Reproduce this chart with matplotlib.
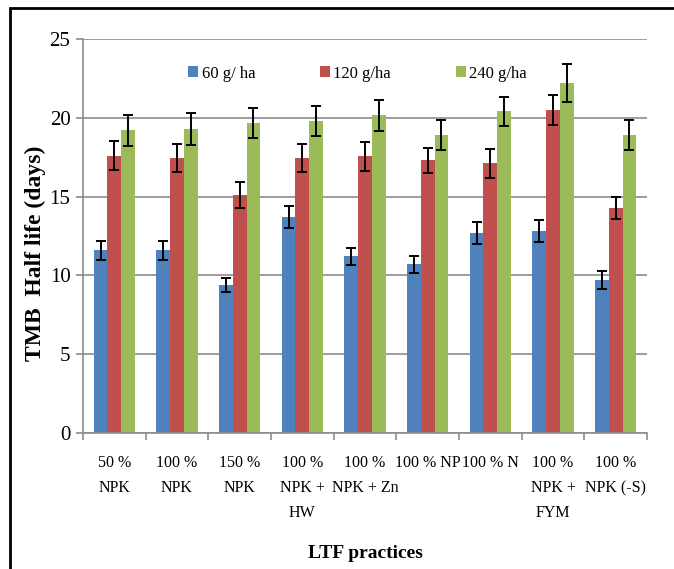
import matplotlib
matplotlib.use("Agg")
import matplotlib.pyplot as plt
import numpy as np
from matplotlib.patches import Rectangle

categories = ["50 %\nNPK", "100 %\nNPK", "150 %\nNPK", "100 %\nNPK +\nHW",
              "100 %\nNPK + Zn", "100 % NP", "100 % N", "100 %\nNPK +\nFYM",
              "100 %\nNPK (-S)"]
series_names = ["60 g/ ha", "120 g/ha", "240 g/ha"]
rate_60 = [11.6, 11.6, 9.4, 13.7, 11.2, 10.7, 12.7, 12.8, 9.7]
rate_120 = [17.6, 17.45, 15.1, 17.45, 17.55, 17.3, 17.1, 20.5, 14.25]
rate_240 = [19.2, 19.3, 19.65, 19.8, 20.15, 18.9, 20.4, 22.2, 18.9]
err_60 = [0.6, 0.6, 0.45, 0.7, 0.55, 0.55, 0.7, 0.7, 0.55]
err_120 = [0.9, 0.9, 0.8, 0.9, 0.9, 0.8, 0.95, 0.95, 0.7]
err_240 = [1.0, 1.0, 0.95, 0.95, 1.0, 0.95, 0.95, 1.2, 0.95]
y_ticks = [0, 5, 10, 15, 20, 25]

colors = ["#4F81BD", "#C0504D", "#9BBB59"]

plt.rcParams["font.family"] = ["Liberation Serif", "DejaVu Serif"]

fig = plt.figure(figsize=(6.74, 5.69), dpi=100)
ax = fig.add_axes([0.1231, 0.239, 0.8369, 0.6925])

x = np.arange(len(categories))
width = 0.22
values = [rate_60, rate_120, rate_240]
errors = [err_60, err_120, err_240]
for i, (vals, errs) in enumerate(zip(values, errors)):
    ax.bar(x + (i - 1) * width, vals, width, color=colors[i],
           label=series_names[i], zorder=2,
           yerr=errs, capsize=3.5,
           error_kw=dict(ecolor="black", elinewidth=1.4, capthick=1.4, zorder=3))

ax.set_xlim(-0.5, len(categories) - 0.5)
ax.set_ylim(0, 25)
ax.set_yticks(y_ticks)
ax.yaxis.grid(True, color="#8c8c8c", linewidth=1.2, zorder=0)
ax.set_axisbelow(True)
for s in ["top", "right"]:
    ax.spines[s].set_visible(False)
for s in ["left", "bottom"]:
    ax.spines[s].set_color("#8c8c8c")
    ax.spines[s].set_linewidth(1.2)

# tick marks at group boundaries, labels at group centres
ax.set_xticks(np.arange(len(categories) + 1) - 0.5)
ax.set_xticklabels([])
ax.set_xticks(x, minor=True)
ax.set_xticklabels(categories, minor=True, fontsize=11.5, linespacing=1.75, va="top")
ax.tick_params(axis="x", which="major", length=5, color="#8c8c8c", width=1.2)
ax.tick_params(axis="x", which="minor", length=0, pad=16)
ax.tick_params(axis="y", length=5, color="#8c8c8c", width=1.2, labelsize=15, pad=4)

ax.set_ylabel("TMB  Half life (days)", fontsize=17, fontweight="bold")
ax.yaxis.set_label_coords(-0.066, 0.455)
ax.set_xlabel("LTF practices", fontsize=14, fontweight="bold")
ax.xaxis.set_label_coords(0.5, -0.285)

ax.legend(loc="center", bbox_to_anchor=(0.487, 0.912), ncol=3, frameon=False,
          fontsize=12, handlelength=0.6, handleheight=0.6, handletextpad=0.2,
          columnspacing=3.9)

# outer frame of the figure
fig.patches.append(Rectangle((10 / 674, -0.05), 1.2, 1 - 8 / 569 + 0.05,
                             transform=fig.transFigure, fill=False,
                             edgecolor="black", linewidth=2))

fig.savefig("out.png", dpi=100)
